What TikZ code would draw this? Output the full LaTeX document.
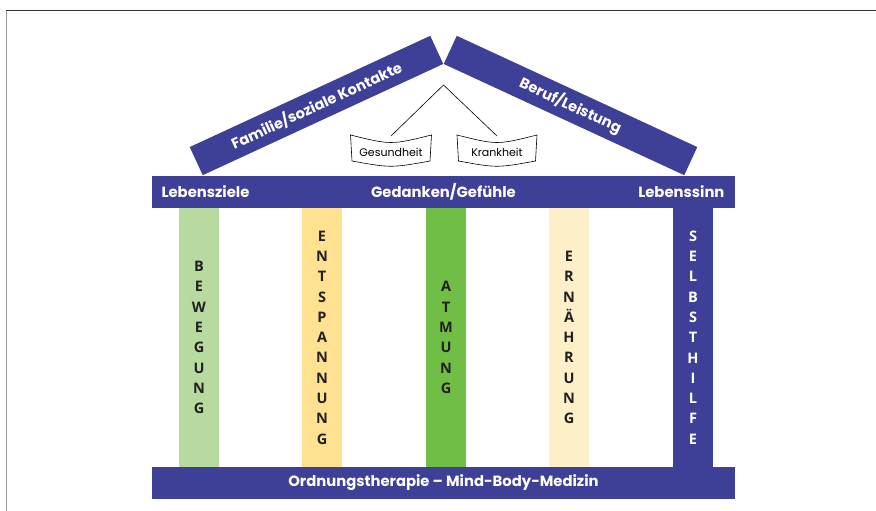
\documentclass[tikz,border=0pt]{standalone}
\usepackage{fontspec}
\setmainfont{Poppins}
\newfontfamily\saeulenfont{Open Sans}
\usepackage{xcolor}
\usetikzlibrary{calc,positioning}

\definecolor{hausblau}{RGB}{62,63,151}
\definecolor{bewegungfarbe}{RGB}{183,219,159}
\definecolor{entspannungfarbe}{RGB}{254,225,145}
\definecolor{atmungfarbe}{RGB}{112,190,69}
\definecolor{ernaehrungfarbe}{RGB}{253,240,201}
\definecolor{buchstabe}{RGB}{35,31,32}

\begin{document}
\begin{tikzpicture}[x=1pt, y=-1pt,
    balken/.style={fill=hausblau, inner sep=0pt, minimum width=583, minimum height=32},
    dach/.style={fill=hausblau, inner sep=0pt, minimum width=265, minimum height=31, text=white, font=\bfseries\fontsize{14.6}{16}\selectfont},
    balkentext/.style={text=white, font=\bfseries\fontsize{14.8}{16}\selectfont},
    saeule/.style={inner sep=0pt, minimum width=40, minimum height=259, align=center, text=buchstabe, font=\saeulenfont\bfseries\fontsize{14.5}{20.3}\selectfont},
    schale/.style={font=\fontsize{11}{13}\selectfont, inner sep=0pt}]
    		% Rahmen und Groesse des Bildes
    		\useasboundingbox (0,0) rectangle (876,511);
    		\draw[line width=1.3pt, gray!80] (6.5,511) -- (6.5,10.5);
    		\draw[line width=1.3pt, black!80] (6,10.5) -- (876,10.5);
    		
    		% Dach
    		\node[dach, rotate=24.82] (familie) at (316.5,105.5) {Familie/soziale Kontakte};
    		\node[dach, rotate=-24.82] (beruf) at (570.5,105.5) {Beruf/Leistung};
    		
    		% Waage unter dem Dach
    		\coordinate (waage) at (443.5,85);
    		\node[schale] (gesund) at (391,152) {Gesundheit};
    		\node[schale] (krank) at (497,152) {Krankheit};
    		\coordinate (gesund-haken) at ($(gesund)+(0,-16)$);
    		\coordinate (krank-haken) at ($(krank)+(0,-16)$);
    		\draw[line width=0.6pt] (gesund-haken) -- (waage) -- (krank-haken);
    		\draw[line width=0.6pt] ($(gesund)+(-40.5,-17)$) .. controls ($(gesund)+(0,-7)$) .. ($(gesund)+(40.5,-17)$)
    		    -- ($(gesund)+(39,9)$) .. controls ($(gesund)+(0,16)$) .. ($(gesund)+(-39,9)$) -- cycle;
    		\draw[line width=0.6pt] ($(krank)+(-40,-17)$) .. controls ($(krank)+(0,-7)$) .. ($(krank)+(40,-17)$)
    		    -- ($(krank)+(38.5,9)$) .. controls ($(krank)+(0,16)$) .. ($(krank)+(-38.5,9)$) -- cycle;
    		
    		% Querbalken oben
    		\node[balken] (gebaelk) at (443.5,192) {};
    		\node[balkentext, anchor=west] (ziele) at (158,192) {Lebensziele};
    		\node[balkentext] (gedanken) at (443.5,192) {Gedanken/Gefühle};
    		\node[balkentext, anchor=east] (sinn) at (728,192) {Lebenssinn};
    		
    		% Saeulen
    		\node[saeule, fill=bewegungfarbe] (bewegung) at (199,337.5) {B\\E\\W\\E\\G\\U\\N\\G};
    		\node[saeule, fill=entspannungfarbe] (entspannung) at (322,337.5) {E\\N\\T\\S\\P\\A\\N\\N\\U\\N\\G};
    		\node[saeule, fill=atmungfarbe] (atmung) at (446,337.5) {A\\T\\M\\U\\N\\G};
    		\node[saeule, fill=ernaehrungfarbe] (ernaehrung) at (569,337.5) {E\\R\\N\\Ä\\H\\R\\U\\N\\G};
    		\node[saeule, fill=hausblau, text=white] (selbsthilfe) at (693,337.5) {S\\E\\L\\B\\S\\T\\H\\I\\L\\F\\E};
    		
    		% Fundament
    		\node[balken, balkentext] (fundament) at (443.5,483) {Ordnungstherapie – Mind-Body-Medizin};
\end{tikzpicture}
\end{document}
